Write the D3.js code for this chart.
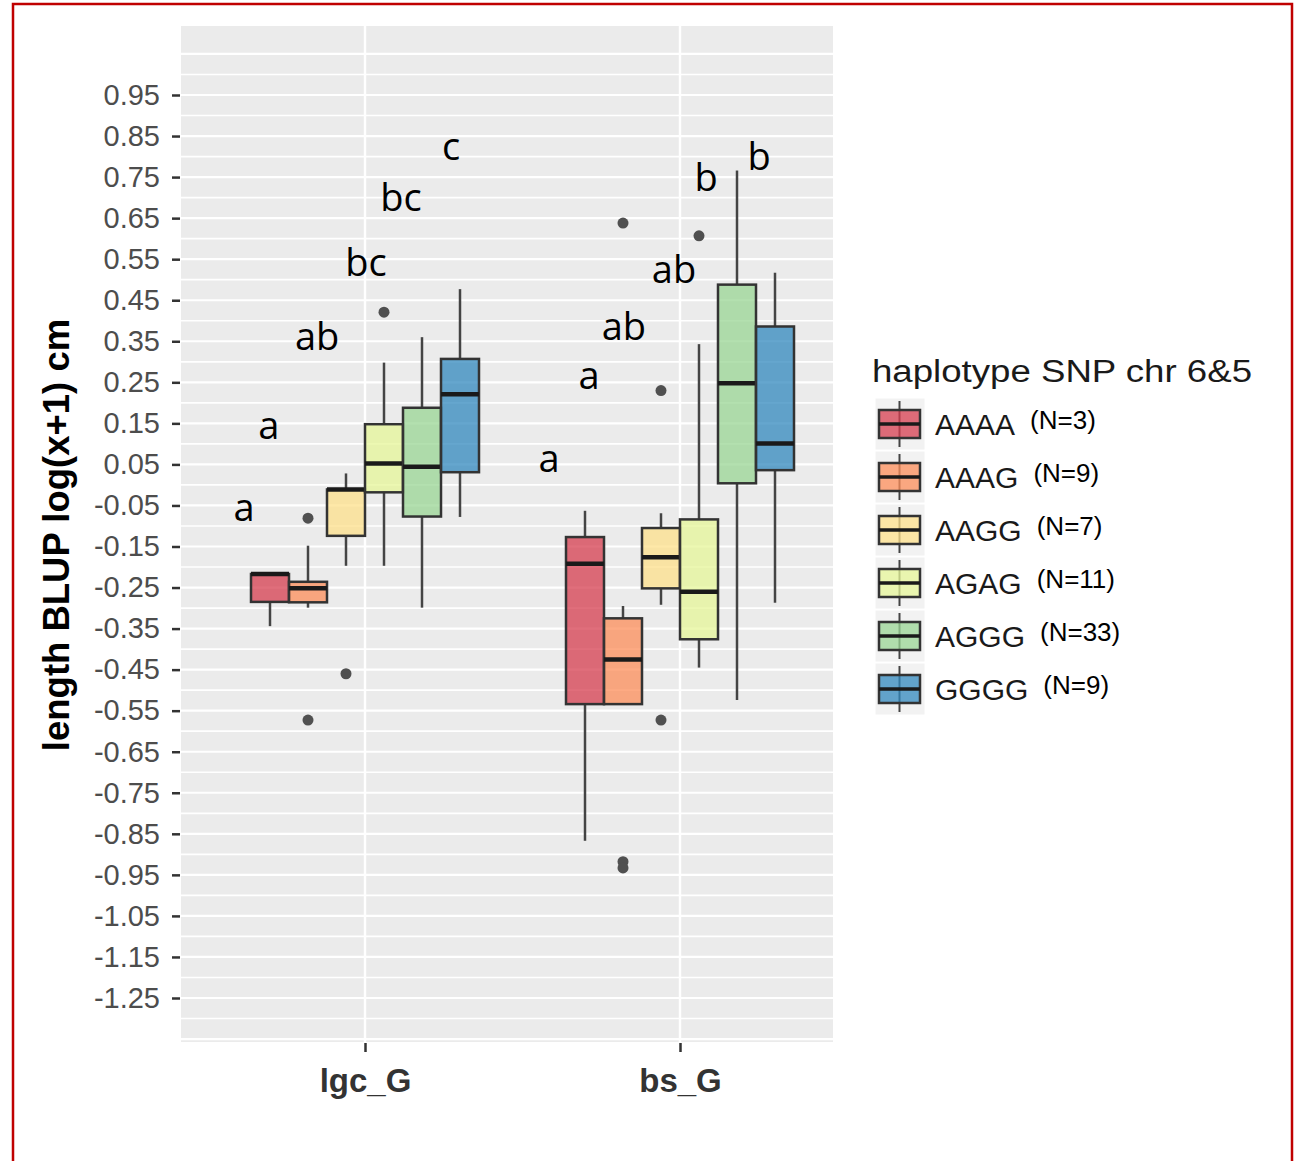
<!DOCTYPE html>
<html>
<head>
<meta charset="utf-8">
<script src="https://cdn.jsdelivr.net/npm/d3@7"></script>
<style>
  body { margin: 0; background: #fff; }
  text { font-family: "Liberation Sans", Arial, sans-serif; }
</style>
</head>
<body>
<svg width="1294" height="1161"></svg>
<script>
(function (d3) {
  'use strict';

  // ---- data ----
  var categories = ["lgc_G", "bs_G"];
  var haplotypes = ["AAAA", "AAAG", "AAGG", "AGAG", "AGGG", "GGGG"];
  var sampleSizes = [3, 9, 7, 11, 33, 9];
  var fillColors = ["#D53E4F", "#FC8D59", "#FEE08B", "#E6F598", "#99D594", "#3288BD"];

  var yTickValues = [0.95, 0.85, 0.75, 0.65, 0.55, 0.45, 0.35, 0.25, 0.15, 0.05,
    -0.05, -0.15, -0.25, -0.35, -0.45, -0.55, -0.65, -0.75, -0.85, -0.95,
    -1.05, -1.15, -1.25];

  // [lower whisker, Q1, median, Q3, upper whisker]
  var lgcStats = [
    [-0.344, -0.285, -0.217, -0.217, -0.217],
    [-0.299, -0.286, -0.252, -0.236, -0.148],
    [-0.197, -0.124, -0.011, -0.011, 0.028],
    [-0.197, -0.018, 0.052, 0.148, 0.298],
    [-0.299, -0.077, 0.044, 0.188, 0.360],
    [-0.078, 0.031, 0.221, 0.307, 0.477]
  ];
  var bsStats = [
    [-0.867, -0.534, -0.192, -0.127, -0.063],
    [-0.534, -0.534, -0.425, -0.325, -0.295],
    [-0.292, -0.252, -0.176, -0.105, -0.069],
    [-0.445, -0.376, -0.260, -0.084, 0.343],
    [-0.524, 0.004, 0.248, 0.488, 0.766],
    [-0.287, 0.036, 0.101, 0.386, 0.517]
  ];
  var lgcOutliers = [[], [-0.081, -0.573], [-0.460], [0.421], [], []];
  var bsOutliers = [[], [0.638, -0.918, -0.933], [0.230, -0.573], [0.607], [], []];

  // significance letters (x in category units, y = baseline value)
  var letterText = ["a", "a", "ab", "bc", "bc", "c", "a", "a", "ab", "ab", "b", "b"];
  var letterX = [0.616, 0.695, 0.848, 1.003, 1.114, 1.273, 1.584, 1.711, 1.822, 1.981, 2.083, 2.251];
  var letterY = [-0.088, 0.112, 0.329, 0.509, 0.667, 0.792, 0.032, 0.234, 0.353, 0.492, 0.716, 0.767];

  var svg = d3.select("svg");

  var panel = { left: 181, right: 833, top: 26, bottom: 1042 };

  // scales
  var xScale = d3.scaleLinear().domain([1, 2]).range([365, 680]);
  var yScale = d3.scaleLinear().domain([0.95, -1.25]).range([95, 998]);
  var dodge = d3.scaleBand().domain(haplotypes).range([-114, 114]);
  var color = d3.scaleOrdinal().domain(haplotypes).range(fillColors);

  var rows = [];
  [lgcStats, bsStats].forEach(function (stats, ci) {
    var outs = ci === 0 ? lgcOutliers : bsOutliers;
    haplotypes.forEach(function (h, hi) {
      rows.push({ cat: ci + 1, hap: h, s: stats[hi], out: outs[hi] });
    });
  });

  // panel background + grid
  svg.append("rect")
    .attr("x", panel.left).attr("y", panel.top)
    .attr("width", panel.right - panel.left)
    .attr("height", panel.bottom - panel.top)
    .attr("fill", "#EBEBEB");

  var gridVals = d3.range(1.05, -1.36, -0.05);
  svg.append("g").selectAll("line")
    .data(gridVals)
    .join("line")
    .attr("x1", panel.left).attr("x2", panel.right)
    .attr("y1", function (d) { return yScale(d); })
    .attr("y2", function (d) { return yScale(d); })
    .attr("stroke", "#fff")
    .attr("stroke-width", function (d, i) { return i % 2 === 0 ? 2.2 : 1.7; });

  svg.append("g").selectAll("line")
    .data([1, 2])
    .join("line")
    .attr("x1", function (d) { return xScale(d); })
    .attr("x2", function (d) { return xScale(d); })
    .attr("y1", panel.top).attr("y2", panel.bottom)
    .attr("stroke", "#fff")
    .attr("stroke-width", 2.4);

  // y axis
  var yAxis = d3.axisLeft(yScale)
    .tickValues(yTickValues)
    .tickFormat(function (d) { return d.toFixed(2); })
    .tickSize(8)
    .tickPadding(12);
  var yAxisG = svg.append("g")
    .attr("transform", "translate(" + (panel.left - 1) + ",0)")
    .call(yAxis);
  yAxisG.select(".domain").remove();
  yAxisG.selectAll(".tick line").attr("stroke", "#333").attr("stroke-width", 2.5);
  yAxisG.selectAll(".tick text")
    .attr("fill", "#4D4D4D")
    .style("font-size", "29px")
    .style("font-family", "'Liberation Sans', Arial, sans-serif");

  // x axis
  var xAxis = d3.axisBottom(xScale)
    .tickValues([1, 2])
    .tickFormat(function (d) { return categories[d - 1]; })
    .tickSize(9)
    .tickPadding(17);
  var xAxisG = svg.append("g")
    .attr("transform", "translate(0," + (panel.bottom + 1) + ")")
    .call(xAxis);
  xAxisG.select(".domain").remove();
  xAxisG.selectAll(".tick line").attr("stroke", "#333").attr("stroke-width", 2.5);
  xAxisG.selectAll(".tick text")
    .attr("fill", "#333")
    .style("font-size", "33px")
    .style("font-weight", "bold")
    .style("font-family", "'Liberation Sans', Arial, sans-serif");

  // y axis title
  svg.append("text")
    .text("length BLUP log(x+1) cm")
    .attr("transform", "translate(69,535) rotate(-90)")
    .attr("text-anchor", "middle")
    .attr("fill", "#000")
    .style("font-size", "36.5px")
    .style("font-weight", "bold");

  // boxplots
  var boxW = dodge.bandwidth();
  var boxes = svg.append("g").selectAll("g")
    .data(rows)
    .join("g")
    .attr("transform", function (d) {
      return "translate(" + (xScale(d.cat) + dodge(d.hap) + boxW / 2) + ",0)";
    });

  boxes.append("line")
    .attr("y1", function (d) { return yScale(d.s[4]); })
    .attr("y2", function (d) { return yScale(d.s[3]); })
    .attr("stroke", "#444").attr("stroke-width", 2.5);
  boxes.append("line")
    .attr("y1", function (d) { return yScale(d.s[1]); })
    .attr("y2", function (d) { return yScale(d.s[0]); })
    .attr("stroke", "#444").attr("stroke-width", 2.5);

  boxes.append("rect")
    .attr("x", -boxW / 2)
    .attr("width", boxW)
    .attr("y", function (d) { return yScale(d.s[3]); })
    .attr("height", function (d) { return yScale(d.s[1]) - yScale(d.s[3]); })
    .attr("fill", function (d) { return color(d.hap); })
    .attr("fill-opacity", 0.75)
    .attr("stroke", "#333")
    .attr("stroke-width", 2.5);

  boxes.append("line")
    .attr("x1", -boxW / 2).attr("x2", boxW / 2)
    .attr("y1", function (d) { return yScale(d.s[2]); })
    .attr("y2", function (d) { return yScale(d.s[2]); })
    .attr("stroke", "#1a1a1a").attr("stroke-width", 4.5);

  boxes.selectAll("circle")
    .data(function (d) { return d.out; })
    .join("circle")
    .attr("cy", function (v) { return yScale(v); })
    .attr("r", 5.5)
    .attr("fill", "#505050");

  // letters
  svg.append("g").selectAll("text")
    .data(letterText)
    .join("text")
    .text(function (d) { return d; })
    .attr("x", function (d, i) { return xScale(letterX[i]); })
    .attr("y", function (d, i) { return yScale(letterY[i]); })
    .attr("text-anchor", "middle")
    .attr("fill", "#000")
    .style("font-family", "'Open Sans', sans-serif")
    .style("font-size", "38px");

  // legend
  var legend = svg.append("g").attr("transform", "translate(875,0)");
  legend.append("text")
    .text("haplotype SNP chr 6&5")
    .attr("x", -3).attr("y", 382)
    .attr("textLength", 380)
    .attr("lengthAdjust", "spacingAndGlyphs")
    .attr("fill", "#1a1a1a")
    .style("font-size", "31px");

  var keyY = d3.scalePoint().domain(haplotypes).range([424, 689]);
  var keys = legend.selectAll("g.key")
    .data(haplotypes)
    .join("g")
    .attr("class", "key")
    .attr("transform", function (d) { return "translate(0," + keyY(d) + ")"; });

  keys.append("rect")
    .attr("x", 0).attr("y", -26).attr("width", 50).attr("height", 52)
    .attr("fill", "#F2F2F2").attr("stroke", "#fff").attr("stroke-width", 1);
  keys.append("line")
    .attr("x1", 24.5).attr("x2", 24.5).attr("y1", -23).attr("y2", 23)
    .attr("stroke", "#444").attr("stroke-width", 2);
  keys.append("rect")
    .attr("x", 4).attr("y", -14).attr("width", 41).attr("height", 28)
    .attr("fill", function (d) { return color(d); })
    .attr("fill-opacity", 0.75)
    .attr("stroke", "#333").attr("stroke-width", 2.5);
  keys.append("line")
    .attr("x1", 4).attr("x2", 45).attr("y1", 0).attr("y2", 0)
    .attr("stroke", "#1a1a1a").attr("stroke-width", 3.5);

  var keyLabels = keys.append("text")
    .text(function (d) { return d; })
    .attr("x", 60).attr("y", 11)
    .attr("fill", "#1a1a1a")
    .style("font-size", "30px");

  keyLabels.each(function (d, i) {
    var w = this.getComputedTextLength();
    d3.select(this.parentNode).append("text")
      .text("(N=" + sampleSizes[i] + ")")
      .attr("x", 60 + w + 15).attr("y", 5)
      .attr("fill", "#000")
      .style("font-size", "26px");
  });

  // red frame
  svg.append("path")
    .attr("d", "M13,1161V4H1292V1161")
    .attr("fill", "none")
    .attr("stroke", "#C00000")
    .attr("stroke-width", 2.5);

}(d3));
</script>
</body>
</html>
